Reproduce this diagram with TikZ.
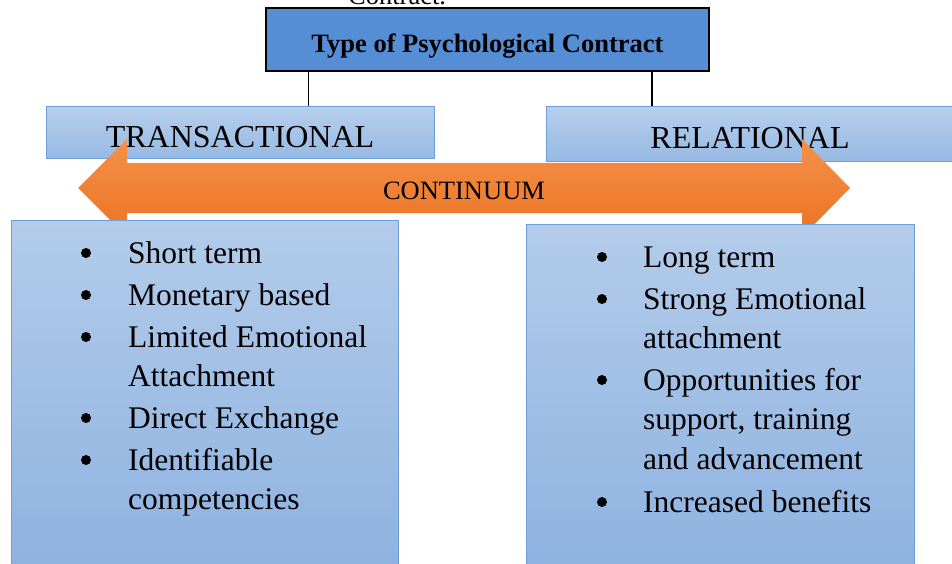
\documentclass[tikz,border=0pt]{standalone}
\usepackage{fontspec}
\setmainfont{Liberation Serif}
\usetikzlibrary{calc}

\definecolor{titleblue}{HTML}{558ED5}
\definecolor{headtop}{HTML}{B6CFEC}
\definecolor{headbot}{HTML}{97B9E3}
\definecolor{boxline}{HTML}{6C9FD9}
\definecolor{boxtop}{HTML}{B3CCEA}
\definecolor{boxbot}{HTML}{8EB2E0}
\definecolor{arrtop}{HTML}{F4914B}
\definecolor{arrbot}{HTML}{EC7321}

\tikzset{
  titlebox/.style={draw=black, line width=1.5pt, fill=titleblue, inner sep=0pt,
    minimum width=443pt, minimum height=63pt,
    font=\fontsize{26.5}{32}\selectfont\bfseries, text height=27pt, text depth=0pt},
  headbox/.style={draw=boxline, line width=1pt, top color=headtop, bottom color=headbot,
    inner sep=0pt, font=\fontsize{32}{38}\selectfont, text height=29pt, text depth=0pt},
  listbox/.style={draw=boxline, line width=1pt, top color=boxtop, bottom color=boxbot, inner sep=0pt},
  itemtext/.style={anchor=base west, inner sep=0pt, font=\fontsize{31.5}{38}\selectfont},
  bulletmark/.style={circle, fill=black, inner sep=0pt, minimum size=10pt},
}

\begin{document}
\begin{tikzpicture}[x=1pt, y=-1pt]
  \useasboundingbox (0,0) rectangle (952,564);
  % cut-off caption line above the chart
  \node[anchor=base west, inner sep=0pt, font=\fontsize{26.5}{32}\selectfont] (caption) at (348,5) {Contract.};
  % title and the two contract types
  \node[titlebox] (title) at (487.5,39.5) {Type of Psychological Contract};
  \node[headbox, minimum width=388pt, minimum height=52pt] (trans) at (240,133) {TRANSACTIONAL};
  \node[headbox, minimum width=408pt, minimum height=55pt] (rel) at (750,134.5) {RELATIONAL};
  \coordinate (dropL) at ($(title.south west)+(43,0)$);
  \coordinate (dropR) at ($(title.south east)+(-58,0)$);
  \draw[black, line width=1.5pt] (dropL) -- (dropL |- trans.north);
  \draw[black, line width=1.5pt] (dropR) -- (dropR |- rel.north);
  % double headed continuum arrow
  \path[top color=arrtop, bottom color=arrbot]
    (78,188) -- (127,139) -- (127,163) -- (802,163) -- (802,139) -- (850,188)
    -- (802,237) -- (802,213) -- (127,213) -- (127,237) -- cycle;
  \node[anchor=base, inner sep=0pt, font=\fontsize{26.5}{32}\selectfont] (contlabel) at (464,200) {CONTINUUM};
  % list boxes
  \node[listbox, minimum width=387pt, minimum height=350pt] (leftlist) at (204.5,395) {};
  \node[listbox, minimum width=388pt, minimum height=346pt] (rightlist) at (720,397) {};
  \foreach \yy/\txt/\bul [count=\i] in {263/Short term/1, 305/Monetary based/1,
      347/Limited Emotional/1, 386/Attachment/0, 428/Direct Exchange/1,
      470/Identifiable/1, 509/competencies/0}{
    \node[itemtext] (ltext\i) at (128,\yy) {\txt};
    \ifnum\bul=1 \node[bulletmark] (lbul\i) at (86,\yy-10) {}; \fi
  }
  \foreach \yy/\txt/\bul [count=\i] in {267/Long term/1, 309/Strong Emotional/1,
      348/attachment/0, 390/Opportunities for/1, 429/{support, training}/0,
      469/and advancement/0, 512/Increased benefits/1}{
    \node[itemtext] (rtext\i) at (643,\yy) {\txt};
    \ifnum\bul=1 \node[bulletmark] (rbul\i) at (602,\yy-10) {}; \fi
  }
\end{tikzpicture}
\end{document}
